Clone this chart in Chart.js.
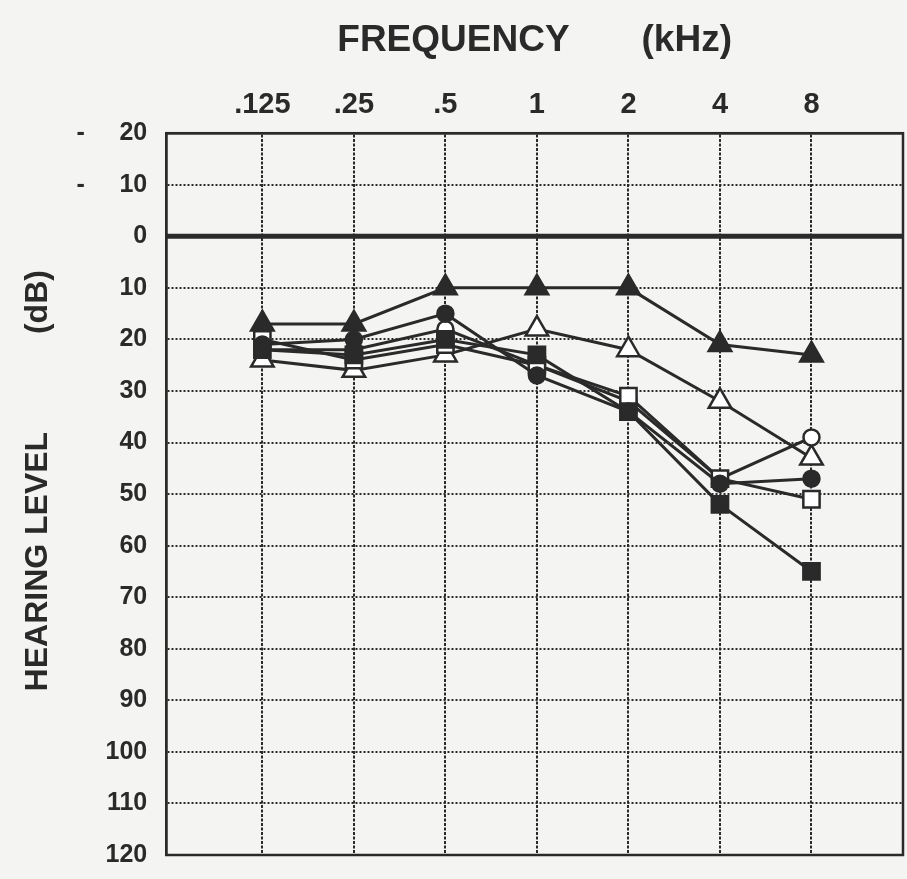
<!DOCTYPE html>
<html><head><meta charset="utf-8">
<script src="https://cdn.jsdelivr.net/npm/chart.js@4.4.1/dist/chart.umd.min.js"></script>
<style>html,body{margin:0;padding:0;background:#f4f4f2;} #wrap{width:907px;height:879px;}</style>
</head><body><div id="wrap"><canvas id="c" width="907" height="879"></canvas></div>
<script>
const frequencies = ['.125', '.25', '.5', '1', '2', '4', '8'];
const levelTicks = [-20, -10, 0, 10, 20, 30, 40, 50, 60, 70, 80, 90, 100, 110, 120];
const filledTriangle = [17, 17, 10, 10, 10, 21, 23];
const openTriangle   = [24, 26, 23, 18, 22, 32, 43];
const filledCircle   = [21, 20, 15, 27, 34, 48, 47];
const openCircle     = [22, 22, 18, 25, 32, 47, 39];
const filledSquare   = [22, 23, 20, 23, 34, 52, 65];
const openSquare     = [20, 24, 21, 25, 31, 47, 51];
const zeroLine = [0, 0];

const INK = '#2a2a2a';
const FONT = "'Liberation Sans', Arial, Helvetica, sans-serif";

function pts(arr) { return arr.map((v, i) => ({x: i, y: v})); }
function series(arr, style, filled, r) {
  return {
    data: pts(arr), borderColor: INK, borderWidth: 3,
    pointStyle: style, pointRadius: r, pointHoverRadius: r,
    pointBackgroundColor: filled ? INK : '#ffffff',
    pointBorderColor: INK, pointBorderWidth: 2.5,
    tension: 0, fill: false
  };
}

const frame = {
  id: 'frame',
  beforeDraw(chart) {
    const c = chart.ctx; c.save(); c.fillStyle = '#f4f4f2';
    c.fillRect(0, 0, chart.width, chart.height); c.restore();
  },
  afterDatasetsDraw(chart) {
    const a = chart.chartArea, c = chart.ctx;
    c.save(); c.strokeStyle = INK; c.lineWidth = 2.5;
    c.strokeRect(a.left, a.top, a.right - a.left, a.bottom - a.top);
    c.restore();
  }
};

new Chart(document.getElementById('c'), {
  type: 'line',
  data: {
    datasets: [
      {data: [{x: -1.05, y: zeroLine[0]}, {x: 7, y: zeroLine[1]}], borderColor: INK, borderWidth: 5, pointRadius: 0, order: 10},
      series(filledSquare, 'rect', true, 11.5),
      series(filledCircle, 'circle', true, 8),
      series(openSquare, 'rect', false, 11.5),
      series(openCircle, 'circle', false, 8),
      series(openTriangle, 'triangle', false, 13),
      series(filledTriangle, 'triangle', true, 13)
    ]
  },
  options: {
    responsive: false, animation: false, devicePixelRatio: 1,
    layout: {autoPadding: false, padding: {top: 17, right: 4, bottom: 0, left: 19}},
    plugins: {legend: {display: false}, tooltip: {enabled: false}},
    scales: {
      x: {
        type: 'linear', position: 'top', min: -1.05, max: 7,
        afterBuildTicks(s) { s.ticks = frequencies.map((f, i) => ({value: i})); },
        ticks: {
          callback: (v) => frequencies[v] !== undefined ? frequencies[v] : '',
          color: INK, font: {family: FONT, size: 29, weight: 'bold'}, padding: 11, maxRotation: 0, autoSkip: false
        },
        grid: {color: INK, lineWidth: 2, drawTicks: false},
        border: {display: true, color: INK, width: 2.5, dash: [3, 1.5]},
        title: {display: true, text: 'FREQUENCY       (kHz)', color: INK, font: {family: FONT, size: 37, weight: 'bold'}, padding: {top: 2, bottom: 13}}
      },
      y: {
        type: 'linear', reverse: true, min: -20, max: 120,
        afterBuildTicks(s) { s.ticks = levelTicks.map(v => ({value: v})); },
        afterFit(s) { s.paddingBottom = 24; s.paddingTop = 15; },
        ticks: {
          callback: (v) => v < 0 ? '-     ' + Math.abs(v) : String(v),
          color: INK, font: {family: FONT, size: 25, weight: 'bold'}, padding: 19, autoSkip: false
        },
        grid: {color: INK, lineWidth: 2, drawTicks: false},
        border: {display: true, color: INK, width: 2.5, dash: [2, 2]},
        title: {display: true, text: '   HEARING LEVEL           (dB)', color: INK, font: {family: FONT, size: 32, weight: 'bold'}, padding: {top: 0, bottom: 0}}
      }
    }
  },
  plugins: [frame]
});
</script></body></html>
